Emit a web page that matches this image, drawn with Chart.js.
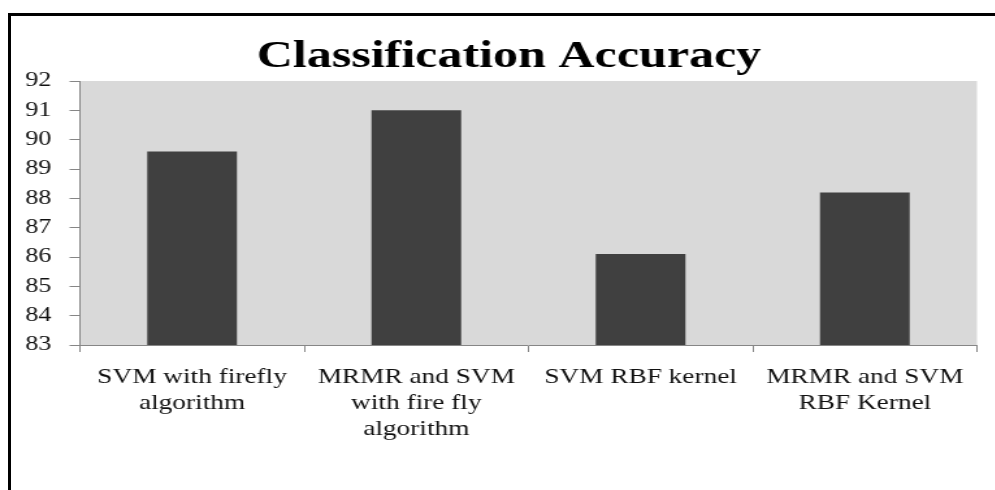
<!DOCTYPE html>
<html>
<head>
<meta charset="utf-8">
<script src="https://cdn.jsdelivr.net/npm/chart.js@4.4.0/dist/chart.umd.min.js"></script>
<style>
  html, body { margin: 0; padding: 0; background: #fff; overflow: hidden; }
  body { width: 995px; height: 490px; position: relative; }
  /* black frame: top + left only, like the cropped original */
  .frame {
    position: absolute; left: 8px; top: 13px; width: 1000px; height: 500px;
    border-top: 3px solid #000; border-left: 3px solid #000;
  }
  /* source picture is stretched ~1.3x horizontally, so draw narrow and stretch */
  .wrap {
    position: absolute; left: 0; top: 0; width: 765px; height: 490px;
    transform: scaleX(1.3); transform-origin: 0 0;
  }
</style>
</head>
<body>
<div class="frame"></div>
<div class="wrap"><canvas id="chart"></canvas></div>
<script>
  /* ── Data ─────────────────────────────────────────────────────── */
  const titleText = 'Classification Accuracy';
  const categories = [
    ['SVM with firefly', 'algorithm'],
    ['MRMR and SVM', 'with fire fly', 'algorithm'],
    ['SVM RBF kernel'],
    ['MRMR and SVM', 'RBF Kernel'],
  ];
  const accuracy = [89.6, 91.0, 86.1, 88.2];
  const yMin = 83, yMax = 92, yStep = 1;

  const SERIF = "'Liberation Serif', 'Times New Roman', serif";
  const AXIS_GREY = '#868686';

  // grey plot background
  const plotBg = {
    id: 'plotBg',
    beforeDraw(chart) {
      const { ctx, chartArea: a } = chart;
      ctx.save();
      ctx.fillStyle = '#d9d9d9';
      ctx.fillRect(a.left, a.top, a.right - a.left, a.bottom - a.top);
      ctx.restore();
    },
  };

  // title sits left of the plot centre in the original, so draw it ourselves
  const chartTitle = {
    id: 'chartTitle',
    afterDraw(chart) {
      const { ctx } = chart;
      ctx.save();
      ctx.font = `bold 38.5px ${SERIF}`;
      ctx.fillStyle = '#000';
      ctx.textAlign = 'center';
      ctx.textBaseline = 'middle';
      ctx.fillText(titleText, 391.5, 56.75);
      ctx.restore();
    },
  };

  new Chart(document.getElementById('chart'), {
    type: 'bar',
    data: {
      labels: categories,
      datasets: [{
        data: accuracy,
        backgroundColor: '#404040',
        borderWidth: 0,
        barPercentage: 0.4,
        categoryPercentage: 1,
      }],
    },
    options: {
      responsive: true, maintainAspectRatio: false, animation: false,
      layout: { padding: { left: 0, right: 13.5, top: 81, bottom: 0 } },
      plugins: {
        legend: { display: false },
        tooltip: { enabled: false },
        title: { display: false },
      },
      scales: {
        x: {
          grid: { drawOnChartArea: false, drawTicks: true, tickLength: 7, color: AXIS_GREY, offset: true },
          border: { color: AXIS_GREY },
          ticks: { color: '#111', padding: 12, maxRotation: 0, autoSkip: false,
                   font: { family: SERIF, size: 21, lineHeight: 1.25 } },
          afterFit(s) { s.height = 145; },
        },
        y: {
          min: yMin, max: yMax,
          grid: { drawOnChartArea: false, drawTicks: true, tickLength: 8, color: AXIS_GREY },
          border: { color: AXIS_GREY },
          ticks: { stepSize: yStep, color: '#111', padding: 14,
                   font: { family: SERIF, size: 20 } },
          afterFit(s) { s.width = 61.5; },
        },
      },
    },
    plugins: [plotBg, chartTitle],
  });
</script>
</body>
</html>
